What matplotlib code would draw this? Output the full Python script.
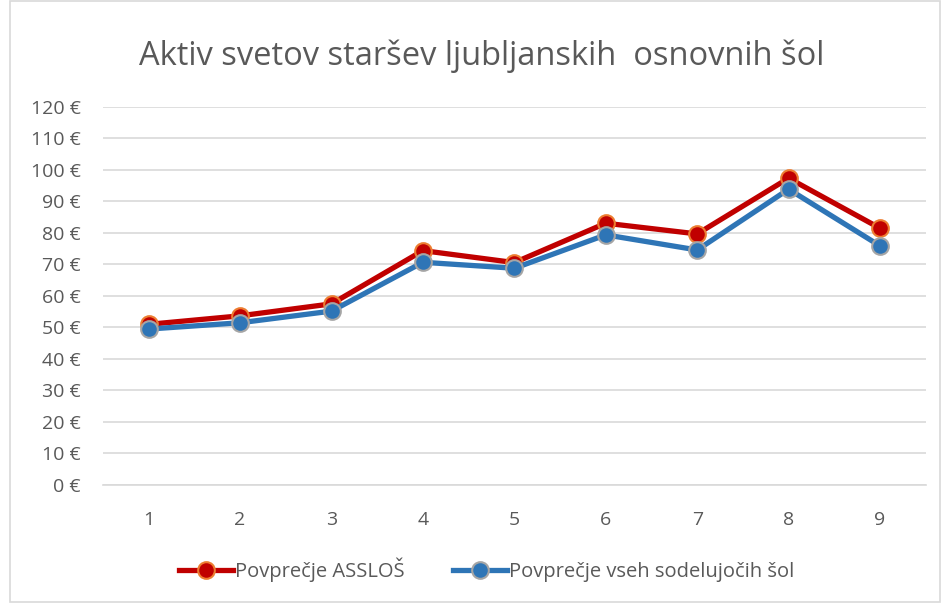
import matplotlib
matplotlib.use('Agg')
import matplotlib.pyplot as plt
from matplotlib.patches import Rectangle

plt.rcParams['font.family'] = ['Open Sans', 'DejaVu Sans']

# podatki
leta = [1, 2, 3, 4, 5, 6, 7, 8, 9]
asslos = [51.0, 53.7, 57.5, 74.4, 70.6, 83.1, 79.7, 97.4, 81.5]
vse_sole = [49.5, 51.5, 55.2, 70.7, 68.8, 79.4, 74.6, 93.9, 75.9]
y_ticks = list(range(0, 121, 10))

fig = plt.figure(figsize=(9.43, 6.03), dpi=100)
ax = fig.add_axes([0.1092, 0.1957, 0.8725, 0.6269])

# okvir grafa
fig.patches.append(Rectangle((0.011, 0.002), 0.986, 0.996, transform=fig.transFigure,
                             fill=False, edgecolor='#d9d9d9', linewidth=1.2))

ax.plot(leta, asslos, color='#c00000', linewidth=3.8, marker='o', markersize=12,
        markerfacecolor='#c00000', markeredgecolor='#ed7d31', markeredgewidth=1.5,
        label='Povprečje ASSLOŠ', zorder=3)
ax.plot(leta, vse_sole, color='#2e75b6', linewidth=3.8, marker='o', markersize=12,
        markerfacecolor='#2e75b6', markeredgecolor='#a5a5a5', markeredgewidth=1.5,
        label='Povprečje vseh sodelujočih šol', zorder=4)

ax.set_xlim(0.5, 9.5)
ax.set_ylim(0, 120)
ax.set_xticks(leta)
ax.set_yticks(y_ticks)
ax.set_yticklabels([f'{v} €' for v in y_ticks])
ax.grid(axis='y', color='#d9d9d9', linewidth=1.2)
ax.set_axisbelow(True)
for s in ax.spines.values():
    s.set_visible(False)
ax.spines['bottom'].set_visible(True)
ax.spines['bottom'].set_color('#d9d9d9')
ax.spines['bottom'].set_linewidth(1.2)
ax.tick_params(axis='both', length=0, labelsize=14, colors='#595959')
ax.tick_params(axis='y', pad=16)
ax.tick_params(axis='x', pad=18.5)

fig.text(0.511, 0.907, 'Aktiv svetov staršev ljubljanskih  osnovnih šol',
         ha='center', va='center', fontsize=23.5, color='#595959')

fig.legend(loc='center', bbox_to_anchor=(0.516, 0.055), ncol=2, frameon=False,
           fontsize=14.5, labelcolor='#595959', handlelength=2.7, columnspacing=2.4,
           handletextpad=0.1)

fig.savefig('out.png', dpi=100)
